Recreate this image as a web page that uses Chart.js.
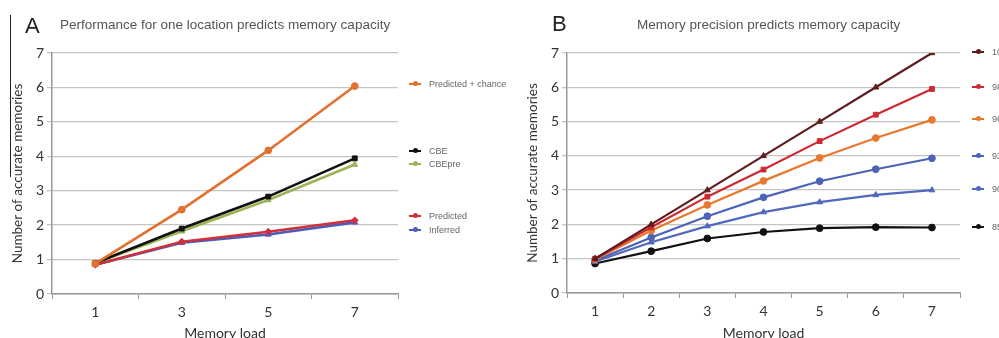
<!DOCTYPE html>
<html><head><meta charset="utf-8">
<script src="https://cdn.jsdelivr.net/npm/chart.js@4.4.0/dist/chart.umd.min.js"></script>
<style>
html,body{margin:0;padding:0;width:999px;height:338px;overflow:hidden;background:#fff;font-family:Lato,'Liberation Sans',sans-serif;}
.box{position:absolute;top:0;height:350px;}
#boxA{left:0;width:500px;}
#boxB{left:500px;width:499px;}
.t{position:absolute;white-space:nowrap;color:#444;line-height:1;}
.big{font-family:'Liberation Sans',Arial,sans-serif;font-size:22px;color:#222;}
.ttl{font-family:'Liberation Sans',Arial,sans-serif;font-size:13.5px;color:#555;}
.lg{position:absolute;white-space:nowrap;font-family:'Liberation Sans',Arial,sans-serif;font-size:9px;color:#666;line-height:1;}
.lg i{display:inline-block;width:12px;height:2px;vertical-align:middle;margin-right:8px;position:relative;top:-1px;}
.lg i b{position:absolute;left:3.5px;top:-2px;width:5px;height:5px;border-radius:50%;background:inherit;}
#bar{position:absolute;left:10px;top:15px;width:1px;height:162px;background:#222;}
</style></head>
<body>
<div id="bar"></div>
<div class="box" id="boxA"><canvas id="cA" width="500" height="350"></canvas></div>
<div class="box" id="boxB"><canvas id="cB" width="499" height="350"></canvas></div>
<div class="t big" style="left:25px;top:15px;">A</div>
<div class="t ttl" style="left:60px;top:18px;">Performance for one location predicts memory capacity</div>
<div class="t big" style="left:552px;top:13px;">B</div>
<div class="t ttl" style="left:637px;top:18px;">Memory precision predicts memory capacity</div>
<div id="legA"></div>
<div id="legB"></div>
<script>
// ---- Panel A data ----
const loadsA = ['1', '3', '5', '7'];
const predChance = [0.88, 2.45, 4.17, 6.04];
const cbe = [0.90, 1.90, 2.83, 3.94];
const cbePre = [0.90, 1.82, 2.73, 3.76];
const predicted = [0.85, 1.52, 1.81, 2.14];
const inferred = [0.85, 1.49, 1.73, 2.08];

// ---- Panel B data ----
const loadsB = ['1', '2', '3', '4', '5', '6', '7'];
const prec100 = [1.00, 2.00, 3.00, 4.00, 5.00, 6.00, 7.00];
const prec98 = [1.00, 1.92, 2.81, 3.60, 4.43, 5.20, 5.95];
const prec96 = [0.98, 1.82, 2.57, 3.27, 3.94, 4.52, 5.05];
const prec93 = [0.95, 1.62, 2.24, 2.79, 3.26, 3.61, 3.93];
const prec90 = [0.92, 1.48, 1.95, 2.36, 2.65, 2.86, 3.00];
const prec85 = [0.86, 1.22, 1.59, 1.78, 1.89, 1.92, 1.91];

const yTicks = [0, 1, 2, 3, 4, 5, 6, 7];
const yTitle = 'Number of accurate memories';
const xTitle = 'Memory load';

const seriesA = [
  {label: 'Predicted + chance', data: predChance, color: '#e2702f', ps: 'circle'},
  {label: 'CBE', data: cbe, color: '#111111', ps: 'rect'},
  {label: 'CBEpre', data: cbePre, color: '#9bb554', ps: 'triangle'},
  {label: 'Predicted', data: predicted, color: '#d0303a', ps: 'rectRot'},
  {label: 'Inferred', data: inferred, color: '#4a5db8', ps: 'triangle'}
];
const seriesB = [
  {label: '100', data: prec100, color: '#5e1c1e', ps: 'triangle'},
  {label: '98', data: prec98, color: '#cc2a30', ps: 'rect'},
  {label: '96', data: prec96, color: '#e8782f', ps: 'circle'},
  {label: '93', data: prec93, color: '#4c63b8', ps: 'circle'},
  {label: '90', data: prec90, color: '#5068bd', ps: 'triangle'},
  {label: '85', data: prec85, color: '#111111', ps: 'circle'}
];

function makeChart(id, labels, series, o) {
  return new Chart(document.getElementById(id), {
    type: 'line',
    data: {
      labels: labels,
      datasets: series.map(s => ({
        label: s.label, data: s.data, borderColor: s.color, backgroundColor: s.color,
        borderWidth: o.lw, pointStyle: s.ps, pointRadius: 3.4, pointBorderWidth: 1,
        tension: 0, fill: false
      }))
    },
    options: {
      responsive: false, animation: false, devicePixelRatio: 1,
      layout: {padding: {left: 0, right: o.padRight, top: 53, bottom: 0}},
      plugins: {legend: {display: false}, tooltip: {enabled: false}},
      scales: {
        x: {
          type: 'category', offset: true,
          grid: {display: true, drawOnChartArea: false, offset: true, tickLength: 5, color: '#999'},
          border: {display: true, color: '#999', width: 1.5},
          ticks: {font: {family: 'Lato', size: 14}, color: '#333', padding: 5, maxRotation: 0},
          title: {display: true, text: xTitle, font: {family: 'Lato', size: 14}, color: '#333', padding: {top: 0, bottom: 8}},
          afterFit: s => { s.height = o.xHeight; }
        },
        y: {
          min: 0, max: 7,
          afterBuildTicks: s => { s.ticks = yTicks.map(v => ({value: v})); },
          grid: {color: '#c4c4c4', lineWidth: 1.3, tickLength: 5, drawTicks: true},
          border: {display: true, color: '#999', width: 1.5},
          ticks: {font: {family: 'Lato', size: 14}, color: '#333', padding: 3},
          title: {display: true, text: yTitle, font: {family: 'Lato', size: 13.5}, color: '#333', padding: {top: o.yTitlePad, bottom: 0}},
          afterFit: s => { s.width = o.yWidth; }
        }
      }
    }
  });
}

makeChart('cA', loadsA, seriesA, {padRight: 102, xHeight: 56, yWidth: 52, yTitlePad: 10, lw: 2.6});
makeChart('cB', loadsB, seriesB, {padRight: 39, xHeight: 57, yWidth: 67, yTitlePad: 25, lw: 2.2});

function legend(hostId, series, x, ys) {
  const host = document.getElementById(hostId);
  series.forEach((s, i) => {
    const d = document.createElement('div');
    d.className = 'lg';
    d.style.left = x + 'px';
    d.style.top = (ys[i] - 5) + 'px';
    d.innerHTML = '<i style="background:' + s.color + '"><b></b></i>' + s.label;
    host.appendChild(d);
  });
}
legend('legA', seriesA, 409, [85, 152, 165, 217, 231]);
legend('legB', seriesB, 972, [53, 88, 120, 157, 190, 228]);
</script>
</body></html>
